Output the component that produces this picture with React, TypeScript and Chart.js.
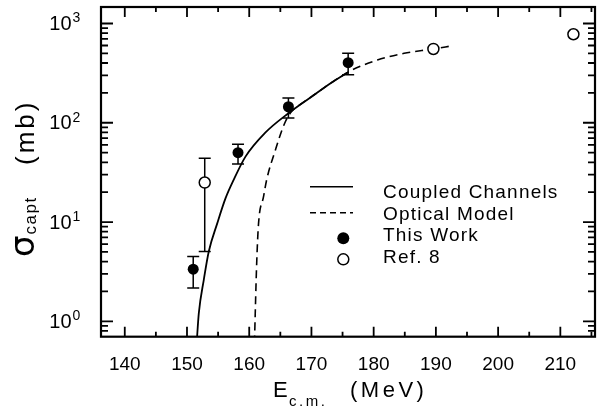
import React, { useEffect, useRef } from "react";
import { Chart, registerables } from "chart.js";

Chart.register(...registerables);

// ---- axis ticks ----
const X_TICKS = [140, 150, 160, 170, 180, 190, 200, 210];
const X_MINOR = [145, 155, 165, 175, 185, 195, 205, 215];
const Y_DECADES = [0, 1, 2, 3];
const X_MIN = 136.18;
const X_MAX = 215.57;
const Y_MIN = 0.703;
const Y_MAX = 1466;

// ---- data: This Work ----
const thisWorkE = [151.0, 158.2, 166.3, 175.9];
const thisWorkSigma = [3.35, 50, 145, 403];
const thisWorkLo = [2.16, 38.5, 112, 305];
const thisWorkHi = [4.49, 60.8, 178, 501];

// ---- data: Ref. 8 ----
const ref8E = [152.85, 189.6, 212.1];
const ref8Sigma = [25, 554, 779];
const ref8Lo = [5.05, 554, 779];
const ref8Hi = [44, 554, 779];

// ---- curves ----
const ccE = [151.55, 151.9, 152.7, 153.5, 154.86, 156.2, 157.5, 159.4, 162.54, 166.25, 169.96, 173.14, 175.8];
const ccSigma = [0.6, 1.21, 2.62, 5.05, 9.7, 17.4, 26.6, 45.6, 79, 124, 182, 252, 321];

const omE = [160.84, 161.2, 161.5, 162.3, 162.8, 164.2, 165.7, 166.8, 168.0, 169.96, 173.14, 175.8, 176.4, 180.6, 184.9, 189.6, 192.5];
const omSigma = [0.6, 3.85, 9.7, 18, 26.6, 53, 99, 130, 150, 182, 252, 321, 337, 429, 501, 554, 595];

const legendLabels = ["Coupled Channels", "Optical Model", "This Work", "Ref. 8"];

const FONT = "'Liberation Sans', Arial, sans-serif";

function setLS(ctx: any, v: string) {
  try { ctx.letterSpacing = v; } catch (e) {}
}

const decor = {
  id: "decor",
  beforeDatasetsDraw(chart: any) {
    const ctx = chart.ctx;
    const xs = chart.scales.x;
    const ys = chart.scales.y;
    ctx.save();
    ctx.strokeStyle = "#000";
    ctx.lineWidth = 1.5;
    const drawBars = (E: number[], lo: number[], hi: number[]) => {
      E.forEach((e, i) => {
        if (hi[i] <= lo[i]) return;
        const px = xs.getPixelForValue(e);
        const y1 = ys.getPixelForValue(lo[i]);
        const y2 = ys.getPixelForValue(hi[i]);
        ctx.beginPath();
        ctx.moveTo(px, y1);
        ctx.lineTo(px, y2);
        ctx.moveTo(px - 6, y1);
        ctx.lineTo(px + 6, y1);
        ctx.moveTo(px - 6, y2);
        ctx.lineTo(px + 6, y2);
        ctx.stroke();
      });
    };
    drawBars(thisWorkE, thisWorkLo, thisWorkHi);
    drawBars(ref8E, ref8Lo, ref8Hi);
    ctx.restore();
  },
  afterDraw(chart: any) {
    const ctx = chart.ctx;
    const xs = chart.scales.x;
    const ys = chart.scales.y;
    const { left, right, top, bottom } = chart.chartArea;
    ctx.save();
    ctx.strokeStyle = "#000";
    ctx.fillStyle = "#000";
    // frame
    ctx.lineWidth = 2.2;
    ctx.strokeRect(left, top, right - left, bottom - top);

    // x ticks (bottom & top, inward)
    ctx.lineWidth = 1.8;
    ctx.beginPath();
    X_TICKS.forEach((v) => {
      const px = xs.getPixelForValue(v);
      ctx.moveTo(px, bottom); ctx.lineTo(px, bottom - 10);
      ctx.moveTo(px, top); ctx.lineTo(px, top + 10);
    });
    X_MINOR.forEach((v) => {
      if (v > X_MAX) return;
      const px = xs.getPixelForValue(v);
      ctx.moveTo(px, bottom); ctx.lineTo(px, bottom - 5);
      ctx.moveTo(px, top); ctx.lineTo(px, top + 5);
    });
    ctx.stroke();

    // y ticks (left & right, inward)
    ctx.beginPath();
    for (let d = -1; d <= 3; d++) {
      for (let m = 1; m <= 9; m++) {
        const v = m * Math.pow(10, d);
        if (v < Y_MIN || v > Y_MAX) continue;
        const py = ys.getPixelForValue(v);
        const len = m === 1 ? 12 : 7;
        ctx.moveTo(left, py); ctx.lineTo(left + len, py);
        ctx.moveTo(right, py); ctx.lineTo(right - len, py);
      }
    }
    ctx.stroke();

    // x tick labels
    ctx.font = `19px ${FONT}`;
    ctx.textAlign = "center";
    ctx.textBaseline = "alphabetic";
    X_TICKS.forEach((v) => {
      ctx.fillText(String(v), xs.getPixelForValue(v), 370);
    });

    // y tick labels 10^n
    Y_DECADES.forEach((d) => {
      const py = ys.getPixelForValue(Math.pow(10, d));
      ctx.font = `20px ${FONT}`;
      ctx.textAlign = "right";
      ctx.textBaseline = "middle";
      ctx.fillText("10", 71.5, py + 1);
      ctx.font = `14px ${FONT}`;
      ctx.textAlign = "left";
      ctx.fillText(String(d), 72.5, py - 5);
    });

    // x title
    ctx.textBaseline = "alphabetic";
    ctx.textAlign = "left";
    ctx.font = `22px ${FONT}`;
    ctx.fillText("E", 273, 397);
    ctx.font = `15px ${FONT}`;
    setLS(ctx, "2.5px");
    ctx.fillText("c.m.", 289, 406);
    ctx.font = `22px ${FONT}`;
    setLS(ctx, "3.5px");
    ctx.fillText("(MeV)", 350, 397);
    setLS(ctx, "0px");

    // y title (rotated)
    ctx.save();
    ctx.translate(33.5, 257);
    ctx.rotate(-Math.PI / 2);
    ctx.textAlign = "left";
    ctx.font = `34px 'DejaVu Sans', sans-serif`;
    ctx.fillText("σ", 0, 0);
    const sw = ctx.measureText("σ").width;
    ctx.font = `17px ${FONT}`;
    setLS(ctx, "1.5px");
    ctx.fillText("capt", sw + 1, 2);
    ctx.font = `26px ${FONT}`;
    setLS(ctx, "3px");
    ctx.fillText("(mb)", 92, 0);
    setLS(ctx, "0px");
    ctx.restore();

    // legend
    const baselines = [198.3, 220, 240.7, 263.3];
    const mids = [186.7, 212.7, 238.3, 259.3];
    ctx.lineWidth = 1.5;
    ctx.beginPath();
    ctx.moveTo(310, mids[0]); ctx.lineTo(353, mids[0]);
    ctx.stroke();
    ctx.setLineDash([6, 4]);
    ctx.beginPath();
    ctx.moveTo(310, mids[1]); ctx.lineTo(353, mids[1]);
    ctx.stroke();
    ctx.setLineDash([]);
    ctx.beginPath();
    ctx.arc(343.3, mids[2], 6, 0, Math.PI * 2);
    ctx.fill();
    ctx.beginPath();
    ctx.arc(343.3, mids[3], 5.5, 0, Math.PI * 2);
    ctx.fillStyle = "#fff";
    ctx.fill();
    ctx.stroke();
    ctx.fillStyle = "#000";
    ctx.font = `19px ${FONT}`;
    setLS(ctx, "1.2px");
    legendLabels.forEach((t, i) => ctx.fillText(t, 383, baselines[i]));
    setLS(ctx, "0px");
    ctx.restore();
  },
};

export default function App() {
  const ref = useRef<HTMLCanvasElement | null>(null);
  useEffect(() => {
    if (!ref.current) return;
    const toXY = (E: number[], S: number[]) => E.map((e, i) => ({ x: e, y: S[i] }));
    const chart = new Chart(ref.current, {
      type: "scatter",
      data: {
        datasets: [
          {
            label: "This Work",
            data: toXY(thisWorkE, thisWorkSigma),
            pointRadius: 5.5,
            pointBackgroundColor: "#000",
            pointBorderColor: "#000",
            pointBorderWidth: 0,
            showLine: false,
          },
          {
            label: "Ref. 8",
            data: toXY(ref8E, ref8Sigma),
            pointRadius: 5.5,
            pointBackgroundColor: "#fff",
            pointBorderColor: "#000",
            pointBorderWidth: 1.5,
            showLine: false,
          },
          {
            label: "Coupled Channels",
            data: toXY(ccE, ccSigma),
            showLine: true,
            pointRadius: 0,
            borderColor: "#000",
            borderWidth: 1.8,
            cubicInterpolationMode: "monotone",
            fill: false,
          },
          {
            label: "Optical Model",
            data: toXY(omE, omSigma),
            showLine: true,
            pointRadius: 0,
            borderColor: "#000",
            borderWidth: 1.6,
            borderDash: [8, 5],
            cubicInterpolationMode: "monotone",
            fill: false,
          },
        ],
      },
      options: {
        animation: false,
        responsive: false,
        devicePixelRatio: 1,
        events: [],
        layout: { padding: { left: 101, right: 2, top: 7, bottom: 73.3 } },
        scales: {
          x: { type: "linear", min: X_MIN, max: X_MAX, display: false },
          y: { type: "logarithmic", min: Y_MIN, max: Y_MAX, display: false },
        },
        plugins: { legend: { display: false }, tooltip: { enabled: false } },
      } as any,
      plugins: [decor],
    });
    return () => chart.destroy();
  }, []);
  return (
    <div style={{ position: "fixed", left: 0, top: 0, width: 602, height: 410, background: "#fff" }}>
      <canvas ref={ref} width={602} height={410} style={{ width: 602, height: 410 }} />
    </div>
  );
}
